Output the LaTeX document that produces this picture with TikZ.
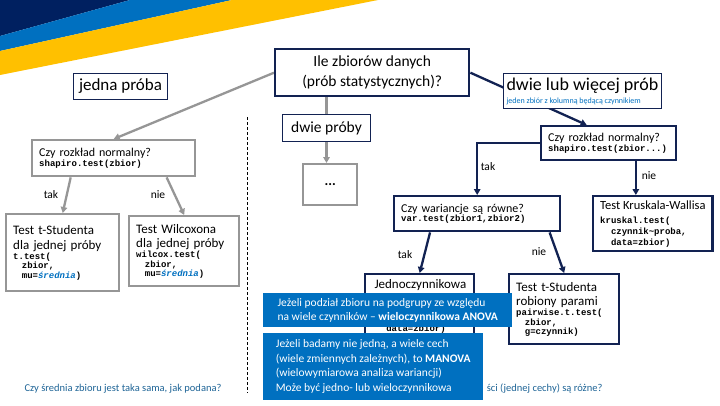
\documentclass[tikz,border=0pt]{standalone}
\usepackage{fontspec}
\setmainfont{Carlito}
\newfontfamily\kodfont{Liberation Mono}
\usepackage{tikz}
\usetikzlibrary{
  calc,          % Punkty na krawedziach: ($(A)!0.3!(B)$)
  backgrounds,   % Linie pod ramkami
  arrows.meta    % Groty strzalek
}

\definecolor{granat}{RGB}{18,34,82}
\definecolor{ciemny}{RGB}{0,32,96}
\definecolor{niebieski}{RGB}{0,112,192}
\definecolor{zolty}{RGB}{255,192,0}
\definecolor{szary}{RGB}{150,150,150}
\definecolor{morski}{RGB}{30,100,150}

\newcommand{\kod}{\kodfont\bfseries\fontsize{9}{9.5}\selectfont}
\newcommand{\srednia}{\textcolor{niebieski}{\itshape średnia}}

\tikzset{
  ramka/.style={draw=granat, line width=2.4pt, fill=white, align=left, inner xsep=7pt, inner ysep=3pt, anchor=north west, font=\fontsize{13}{14.5}\selectfont},
  szara/.style={ramka, draw=szary},
  pytanie/.style={font=\fontsize{12}{13}\selectfont},
  etykieta/.style={draw=granat, line width=1pt, fill=white, inner sep=3pt, anchor=north west},
  uwaga/.style={fill=niebieski, text=white, align=left, inner xsep=9pt, anchor=north west, font=\fontsize{11.5}{14.5}\selectfont},
  strz/.style={draw=granat, line width=2.3pt, -{Triangle[length=6pt,width=6.5pt]}},
  sstrz/.style={strz, draw=szary},
  opis/.style={font=\fontsize{11.5}{13}\selectfont}
}

\begin{document}
\begin{tikzpicture}[x=1pt, y=-1pt]
            \useasboundingbox (0,0) rectangle (720,405);
            \fill[ciemny] (0,0) -- (130,0) -- (0,36) -- cycle;
            \fill[niebieski] (130,0) -- (232,0) -- (0,51) -- (0,36) -- cycle;
            \fill[zolty] (232,0) -- (378,0) -- (0,75) -- (0,51) -- cycle;

            \node[ramka, align=center, minimum width=194pt, minimum height=47pt, font=\fontsize{15.5}{20}\selectfont] (ile) at (274,48) {Ile zbiorów danych\\(prób statystycznych)?};
            \node[etykieta, minimum width=94pt, minimum height=26pt, font=\fontsize{17}{19}\selectfont] (jedna) at (73,73) {jedna próba};
            \node[etykieta, align=left, minimum width=150pt, minimum height=35pt] (wiele) at (503,73) {{\fontsize{18}{18}\selectfont dwie lub więcej prób}\\[1pt]{\fontsize{8}{8}\selectfont\color{niebieski}jeden zbiór z kolumną będącą czynnikiem}};
            \node[etykieta, minimum width=88pt, minimum height=27pt, font=\fontsize{15.5}{17}\selectfont] (dwie) at (282,114) {dwie próby};

            % jedna proba
            \node[szara, pytanie, minimum width=163pt, minimum height=36pt, text width=149pt] (norm1) at (31,139) {Czy rozkład normalny?\par\kod shapiro.test(zbior)\par};
            \node[szara, minimum width=113pt, minimum height=77pt, text width=99pt] (tst1) at (5,213) {Test t-Studenta\\dla jednej próby\par\vspace{0.5pt}\kod t.test(\\\ \ zbior,\\\ \ mu=\srednia)\par};
            \node[szara, minimum width=110pt, minimum height=70pt, text width=96pt] (wilc) at (128,215) {Test Wilcoxona\\dla jednej próby\par\vspace{0.5pt}\kod wilcox.test(\\\ \ zbior,\\\ \ mu=\srednia)\par};
            \node[opis] (tak1) at (51,195) {tak};
            \node[opis] (nie1) at (158,195) {nie};
            \node[font=\fontsize{10.5}{12}\selectfont, text=morski] (pyt1) at (123,389) {Czy średnia zbioru jest taka sama, jak podana?};
            \coordinate (kreska1) at (247,117);
            \coordinate (kreska2) at (247,393);
            \draw[line width=0.8pt, dash pattern=on 3pt off 2pt] (kreska1) -- (kreska2);

            % dwie proby
            \node[szara, minimum width=54pt, minimum height=41pt, align=center, font=\bfseries\fontsize{14}{16}\selectfont] (kropki) at (302,163) {...};

            % wiecej prob
            \node[ramka, pytanie, minimum width=135pt, minimum height=34pt, text width=121pt] (norm2) at (540,125) {Czy rozkład normalny?\par\kod shapiro.test(zbior...)\par};
            \node[ramka, pytanie, minimum width=166pt, minimum height=35pt, text width=152pt] (war) at (393,195) {Czy wariancje są równe?\par\kod var.test(zbior1,zbior2)\par};
            \node[ramka, minimum width=118pt, minimum height=55pt, font=\fontsize{12.5}{14}\selectfont] (krus) at (592,195) {Test Kruskala-Wallisa\\{\kod kruskal.test(}\\[-3pt]{\kod\ \ czynnik\textasciitilde proba,}\\[-3pt]{\kod\ \ data=zbior)}};
            \node[ramka, minimum width=109pt, minimum height=72pt] (anova) at (364,273) {};
            \node[anchor=west, font=\fontsize{13}{14}\selectfont] (anova1) at (371,285) {Jednoczynnikowa};
            \node[anchor=west, font=\kod] (anova2) at (372,329) {\ \ data=zbior)};
            \node[ramka, minimum width=110pt, minimum height=70pt, text width=96pt] (tpar) at (508,273) {Test t-Studenta\\robiony parami\par\vspace{0.5pt}\kod pairwise.t.test(\\\ \ zbior,\\\ \ g=czynnik)\par};
            \node[opis] (tak2) at (488,167) {tak};
            \node[opis] (nie2) at (649,176) {nie};
            \node[opis] (tak3) at (405,255) {tak};
            \node[opis] (nie3) at (539,252) {nie};
            \node[font=\fontsize{10.5}{12}\selectfont, text=morski, anchor=east] (pyt2) at (606,389) {ści (jednej cechy) są różne?};

            \node[uwaga, minimum width=249pt, minimum height=34pt] (uwaga1) at (263,293) {Jeżeli podział zbioru na podgrupy ze względu\\na wiele czynników -- \textbf{wieloczynnikowa ANOVA}};
            \node[uwaga, minimum width=220pt, minimum height=67pt] (uwaga2) at (263,333) {Jeżeli badamy nie jedną, a wiele cech\\(wiele zmiennych zależnych), to \textbf{MANOVA}\\(wielowymiarowa analiza wariancji)\\Może być jedno- lub wieloczynnikowa};

            \begin{scope}[on background layer]
            \draw[sstrz] (ile.west) -- (norm1.north);
            \draw[strz] (ile.east) -- ($(norm2.north)+(-22,0)$);
            \draw[sstrz, -] (dwie.north |- ile.south) -- (dwie.north);
            \draw[sstrz] (dwie.south) -- (dwie.south |- kropki.north);
            \draw[sstrz] ($(norm1.south west)!0.24!(norm1.south east)$) -- (tst1.north);
            \draw[sstrz] ($(norm1.south west)!0.82!(norm1.south east)$) -- (wilc.north);
            \draw[strz] (norm2.west) -| (war.north);
            \coordinate (kwe) at ($(krus.north west)!0.36!(krus.north east)$);
            \draw[strz] (norm2.south -| kwe) -- (kwe);
            \draw[strz] ($(war.south west)!0.22!(war.south east)$) -- (anova.north);
            \draw[strz] ($(war.south west)!0.93!(war.south east)$) -- (tpar.north);
            \end{scope}
        \end{tikzpicture}
\end{document}
